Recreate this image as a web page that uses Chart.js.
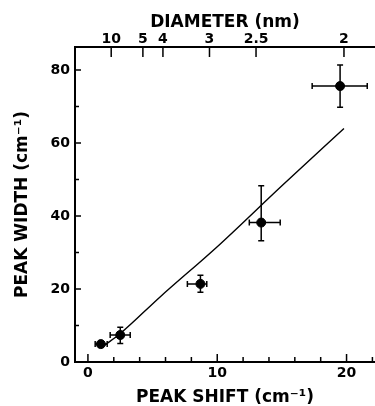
<!DOCTYPE html>
<html>
<head>
<meta charset="utf-8">
<script src="https://cdn.jsdelivr.net/npm/chart.js@4.4.0/dist/chart.umd.min.js"></script>
<style>
  html, body { margin: 0; padding: 0; background: #fff; }
  #wrap { width: 375px; height: 406px; }
</style>
</head>
<body>
<div id="wrap"><canvas id="chart" width="375" height="406"></canvas></div>
<script>
// measured points with error bars
const peakShift = [1.0, 2.5, 8.7, 13.4, 19.5];
const peakWidth = [4.9, 7.4, 21.4, 38.2, 75.6];
const shiftLow  = [0.56, 1.72, 7.69, 12.48, 17.34];
const shiftHigh = [1.49, 3.27, 9.19, 14.87, 21.6];
const widthLow  = [4.4, 5.1, 19.1, 33.2, 69.8];
const widthHigh = [5.4, 9.5, 23.8, 48.3, 81.4];

// fitted curve
const fitShift = [1.3, 2.5, 5.6, 10, 15, 19.8];
const fitWidth = [4.6, 7.8, 17.9, 31.6, 48.3, 64.0];

// top axis: diameter labels placed at their peak shift
const diameterLabels = ['10', '5', '4', '3', '2.5', '2'];
const diameterAt = [1.8, 4.25, 5.8, 9.4, 13.0, 19.8];

const shiftTicks = [0, 2, 4, 6, 8, 10, 12, 14, 16, 18, 20, 22];
const widthTicks = [0, 10, 20, 30, 40, 50, 60, 70, 80];

const FONT = 'DejaVu Sans';

// error bars for the measured points
const errorBars = {
  id: 'errorBars',
  afterDatasetsDraw(chart) {
    const { ctx, scales } = chart;
    const x = scales.x, y = scales.y;
    const cap = 3;
    ctx.save();
    ctx.strokeStyle = '#000';
    ctx.lineWidth = 1.5;
    peakShift.forEach((s, i) => {
      const px = x.getPixelForValue(s);
      const py = y.getPixelForValue(peakWidth[i]);
      const x0 = x.getPixelForValue(shiftLow[i]);
      const x1 = x.getPixelForValue(shiftHigh[i]);
      const y0 = y.getPixelForValue(widthLow[i]);
      const y1 = y.getPixelForValue(widthHigh[i]);
      ctx.beginPath();
      ctx.moveTo(x0, py); ctx.lineTo(x1, py);
      ctx.moveTo(x0, py - cap); ctx.lineTo(x0, py + cap);
      ctx.moveTo(x1, py - cap); ctx.lineTo(x1, py + cap);
      ctx.moveTo(px, y0); ctx.lineTo(px, y1);
      ctx.moveTo(px - cap, y0); ctx.lineTo(px + cap, y0);
      ctx.moveTo(px - cap, y1); ctx.lineTo(px + cap, y1);
      ctx.stroke();
    });
    ctx.restore();
  }
};

// tick marks pointing into the plot
const inwardTicks = {
  id: 'inwardTicks',
  afterDraw(chart) {
    const { ctx, chartArea: a, scales } = chart;
    ctx.save();
    ctx.strokeStyle = '#000';
    ctx.lineWidth = 1.5;
    ctx.beginPath();
    scales.x.ticks.forEach(t => {
      const px = scales.x.getPixelForValue(t.value);
      const len = t.value % 10 === 0 ? 8 : 5;
      ctx.moveTo(px, a.bottom); ctx.lineTo(px, a.bottom - len);
    });
    scales.y.ticks.forEach(t => {
      const py = scales.y.getPixelForValue(t.value);
      const len = t.value % 20 === 0 ? 6 : 4;
      ctx.moveTo(a.left, py); ctx.lineTo(a.left + len, py);
    });
    scales.x2.ticks.forEach(t => {
      const px = scales.x2.getPixelForValue(t.value);
      ctx.moveTo(px, a.top); ctx.lineTo(px, a.top + 10);
    });
    ctx.stroke();
    ctx.restore();
  }
};

const tickFont = { family: FONT, weight: 'bold', size: 14 };
const titleFont = { family: FONT, weight: 'bold', size: 17, lineHeight: 1 };

function fixHeight(h) {
  return s => { s.height = h; s.paddingLeft = 0; s.paddingRight = 0; };
}

const ctx = document.getElementById('chart').getContext('2d');
new Chart(ctx, {
  type: 'scatter',
  data: {
    datasets: [{
      label: 'Measured',
      data: peakShift.map((s, i) => ({ x: s, y: peakWidth[i] })),
      backgroundColor: '#000',
      borderColor: '#000',
      pointRadius: 4.5,
      pointHoverRadius: 4.5
    }, {
      label: 'Fit',
      type: 'line',
      data: fitShift.map((s, i) => ({ x: s, y: fitWidth[i] })),
      borderColor: '#000',
      borderWidth: 1.4,
      pointRadius: 0,
      fill: false,
      cubicInterpolationMode: 'monotone'
    }]
  },
  plugins: [errorBars, inwardTicks],
  options: {
    responsive: false,
    animation: false,
    layout: { padding: 0, autoPadding: false },
    plugins: {
      legend: { display: false },
      tooltip: { enabled: false }
    },
    scales: {
      x: {
        type: 'linear',
        position: 'bottom',
        min: -1,
        max: 22.2,
        afterBuildTicks: s => { s.ticks = shiftTicks.map(v => ({ value: v })); },
        afterFit: fixHeight(44),
        grid: { display: false, drawTicks: false },
        border: { display: true, color: '#000', width: 2 },
        ticks: {
          color: '#000', font: tickFont, padding: 3, autoSkip: false, maxRotation: 0,
          callback: v => (v % 10 === 0 ? v : '')
        },
        title: {
          display: true, text: 'PEAK SHIFT (cm⁻¹)', color: '#000', font: titleFont,
          padding: { top: 0, bottom: 0 }
        }
      },
      x2: {
        type: 'linear',
        position: 'top',
        min: -1,
        max: 22.2,
        afterBuildTicks: s => { s.ticks = diameterAt.map(v => ({ value: v })); },
        afterFit: fixHeight(47),
        grid: { display: false, drawTicks: false },
        border: { display: true, color: '#000', width: 2 },
        ticks: {
          color: '#000', font: tickFont, padding: -1, autoSkip: false, maxRotation: 0,
          callback: (v, i) => diameterLabels[i]
        },
        title: {
          display: true, text: 'DIAMETER (nm)', color: '#000', font: titleFont,
          padding: { top: 14, bottom: 0 }
        }
      },
      y: {
        type: 'linear',
        min: 0,
        max: 86.3,
        afterBuildTicks: s => { s.ticks = widthTicks.map(v => ({ value: v })); },
        afterFit: s => { s.width = 75; s.paddingTop = 0; s.paddingBottom = 0; },
        grid: { display: false, drawTicks: false },
        border: { display: true, color: '#000', width: 2 },
        ticks: {
          color: '#000', font: tickFont, padding: 5,
          callback: v => (v % 20 === 0 ? v : '')
        },
        title: {
          display: true, text: 'PEAK WIDTH (cm⁻¹)', color: '#000', font: titleFont,
          padding: { top: 14, bottom: 0 }
        }
      }
    }
  }
});
</script>
</body>
</html>
